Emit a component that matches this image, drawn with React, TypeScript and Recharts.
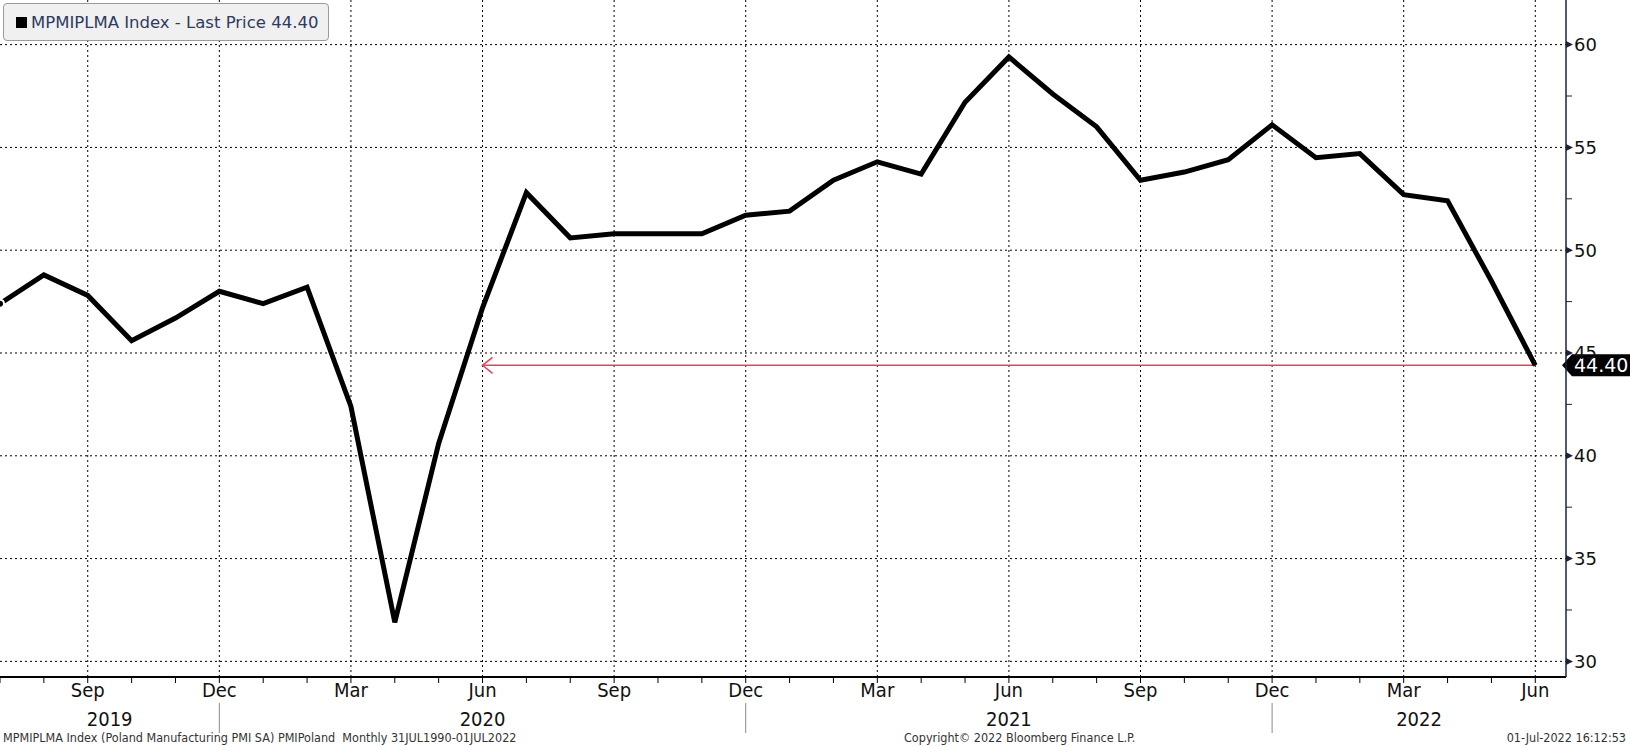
import { CartesianGrid, Line, LineChart, ReferenceLine, XAxis, YAxis } from 'recharts';

// Poland Manufacturing PMI SA, monthly
const dates = [
  '2019-07', '2019-08', '2019-09', '2019-10', '2019-11', '2019-12',
  '2020-01', '2020-02', '2020-03', '2020-04', '2020-05', '2020-06',
  '2020-07', '2020-08', '2020-09', '2020-10', '2020-11', '2020-12',
  '2021-01', '2021-02', '2021-03', '2021-04', '2021-05', '2021-06',
  '2021-07', '2021-08', '2021-09', '2021-10', '2021-11', '2021-12',
  '2022-01', '2022-02', '2022-03', '2022-04', '2022-05', '2022-06',
];
const pmi = [
  47.4, 48.8, 47.8, 45.6, 46.7, 48.0,
  47.4, 48.2, 42.4, 31.9, 40.6, 47.2,
  52.8, 50.6, 50.8, 50.8, 50.8, 51.7,
  51.9, 53.4, 54.3, 53.7, 57.2, 59.4,
  57.6, 56.0, 53.4, 53.8, 54.4, 56.1,
  54.5, 54.7, 52.7, 52.4, 48.5, 44.4,
];
const monthNames = ['Jan', 'Feb', 'Mar', 'Apr', 'May', 'Jun', 'Jul', 'Aug', 'Sep', 'Oct', 'Nov', 'Dec'];
const labelledMonths = [3, 6, 9, 12];
const yTicks = [30, 35, 40, 45, 50, 55, 60];
const yMinorTicks = [32.5, 37.5, 42.5, 47.5, 52.5, 57.5];
const lastValue = 44.4;
const arrowFrom = '2020-06';

const W = 1630;
const H = 747;
const FONT = '"DejaVu Sans", Verdana, sans-serif';
const NARROW = '"DejaVu Sans Condensed", "Liberation Sans Narrow", "DejaVu Sans", sans-serif';

const data = dates.map((d, i) => ({ idx: i, value: pmi[i] }));
const monthOf = (i: number) => Number(dates[i].slice(5));
const majorIdx = dates.map((_, i) => i).filter((i) => labelledMonths.includes(monthOf(i)));
const xMax = dates.length - 1 + 0.7;

// year spans: boundaries at each December
const yearBounds = dates.map((_, i) => i).filter((i) => monthOf(i) === 12);
const yearEdges = [0, ...yearBounds, xMax];
const yearCenters = yearEdges.slice(0, -1).map((e, k) => (e + yearEdges[k + 1]) / 2);
const yearLabels = yearCenters.map((c) => dates[Math.min(Math.round(c), dates.length - 1)].slice(0, 4));

const MonthTick = (props: any) => {
  const { x, y, payload } = props;
  const i = payload.value;
  const m = monthOf(i);
  return (
    <g>
      <line x1={x} x2={x} y1={y} y2={y + 6} stroke='#000' strokeWidth={1} />
      {labelledMonths.includes(m) && (
        <text x={x} y={y + 20} textAnchor='middle' fontSize={20} fontFamily={NARROW} fill='#111'>
          {monthNames[m - 1]}
        </text>
      )}
    </g>
  );
};

const YearTick = (props: any) => {
  const { x, y, payload } = props;
  const v = payload.value;
  const k = yearCenters.indexOf(v);
  if (k < 0) {
    return <line x1={x} x2={x} y1={y} y2={y + 30} stroke='#888' strokeWidth={1} />;
  }
  return (
    <text x={x} y={y + 23} textAnchor='middle' fontSize={20} fontFamily={NARROW} fill='#111'>
      {yearLabels[k]}
    </text>
  );
};

const YTick = (props: any) => {
  const { x, y, payload } = props;
  const v = payload.value;
  if (!yTicks.includes(v)) {
    return <line x1={x} x2={x + 6} y1={y} y2={y} stroke='#1d2238' strokeWidth={1} />;
  }
  return (
    <g>
      <path d={`M${x},${y - 3.5} L${x + 7},${y} L${x},${y + 3.5} Z`} fill='#1d2238' />
      <text x={x + 8} y={y} dy='0.36em' fontSize={18} fontFamily={FONT} fill='#111'>
        {v}
      </text>
    </g>
  );
};

const ArrowLine = (props: any) => {
  const { x1, y1, x2, y2 } = props;
  const left = Math.min(x1, x2);
  return (
    <g>
      <line x1={x1} y1={y1} x2={x2} y2={y2} stroke='#e8415a' strokeWidth={1.5} />
      <polyline
        points={`${left + 10},${y1 - 8} ${left},${y1} ${left + 10},${y1 + 8}`}
        fill='none'
        stroke='#e8415a'
        strokeWidth={1.5}
      />
    </g>
  );
};

const LastTag = (props: any) => {
  const { viewBox } = props;
  if (!viewBox) return null;
  const x = viewBox.x + viewBox.width;
  const y = viewBox.y;
  return (
    <g>
      <path
        d={`M${x - 4},${y} L${x + 6},${y - 11} L${W},${y - 11} L${W},${y + 11} L${x + 6},${y + 11} Z`}
        fill='#000'
      />
      <text x={x + 8} y={y} dy='0.36em' fontSize={19} fontFamily={FONT} fill='#fff'>
        {lastValue.toFixed(2)}
      </text>
    </g>
  );
};

export default function App() {
  return (
    <div style={{ position: 'relative', width: W, height: H, background: '#fff', overflow: 'hidden' }}>
      <style>{`body{margin:0}`}</style>
      <LineChart width={W} height={H} data={data} margin={{ top: 0, right: 0, bottom: 0, left: 0 }}>
        <CartesianGrid
          stroke='#000'
          strokeDasharray='2 3'
          horizontalValues={yTicks}
          verticalValues={majorIdx}
          syncWithTicks={false}
        />
        <XAxis
          dataKey='idx'
          type='number'
          domain={[0, xMax]}
          ticks={dates.map((_, i) => i)}
          interval={0}
          height={26}
          tickSize={0}
          tickMargin={0}
          tickLine={false}
          axisLine={{ stroke: '#000', strokeWidth: 2 }}
          tick={<MonthTick />}
          allowDataOverflow
        />
        <XAxis
          xAxisId='year'
          dataKey='idx'
          type='number'
          domain={[0, xMax]}
          ticks={[...yearCenters, ...yearBounds]}
          interval={0}
          height={44}
          tickSize={0}
          tickMargin={0}
          tickLine={false}
          axisLine={false}
          tick={<YearTick />}
          allowDataOverflow
        />
        <YAxis
          orientation='right'
          type='number'
          domain={[29.24, 62.17]}
          ticks={[...yTicks, ...yMinorTicks].sort((a, b) => a - b)}
          interval={0}
          width={64}
          tickSize={0}
          tickMargin={0}
          tickLine={false}
          axisLine={{ stroke: '#1d2238', strokeWidth: 1.5 }}
          tick={<YTick />}
          allowDataOverflow
        />
        <ReferenceLine
          segment={[
            { x: dates.indexOf(arrowFrom), y: lastValue },
            { x: dates.length - 1, y: lastValue },
          ]}
          shape={<ArrowLine />}
        />
        <Line
          type='linear'
          dataKey='value'
          stroke='#000'
          strokeWidth={5}
          strokeLinejoin='miter'
          dot={false}
          isAnimationActive={false}
        />
        <ReferenceLine y={lastValue} stroke='none' label={<LastTag />} />
      </LineChart>

      <div
        style={{
          position: 'absolute',
          left: 3,
          top: 3,
          width: 326,
          height: 38,
          boxSizing: 'border-box',
          border: '1px solid #9a9a9a',
          borderRadius: 4,
          background: '#f0f0f0',
          display: 'flex',
          alignItems: 'center',
          fontFamily: FONT,
          fontSize: 16.5,
          color: '#2e3b5e',
          whiteSpace: 'nowrap',
        }}
      >
        <span style={{ display: 'inline-block', width: 11, height: 11, background: '#000', marginLeft: 12, marginRight: 4 }} />
        <span>MPMIPLMA Index - Last Price 44.40</span>
      </div>

      <div style={{ position: 'absolute', left: 3, top: 730, fontFamily: NARROW, fontSize: 12.5, color: '#333', whiteSpace: 'nowrap' }}>
        MPMIPLMA Index (Poland Manufacturing PMI SA) PMIPoland&nbsp; Monthly 31JUL1990-01JUL2022
      </div>
      <div style={{ position: 'absolute', left: 904, top: 730, fontFamily: NARROW, fontSize: 12.5, color: '#333', whiteSpace: 'nowrap' }}>
        Copyright© 2022 Bloomberg Finance L.P.
      </div>
      <div style={{ position: 'absolute', right: 4, top: 730, fontFamily: NARROW, fontSize: 12.5, color: '#333', whiteSpace: 'nowrap' }}>
        01-Jul-2022 16:12:53
      </div>
    </div>
  );
}
